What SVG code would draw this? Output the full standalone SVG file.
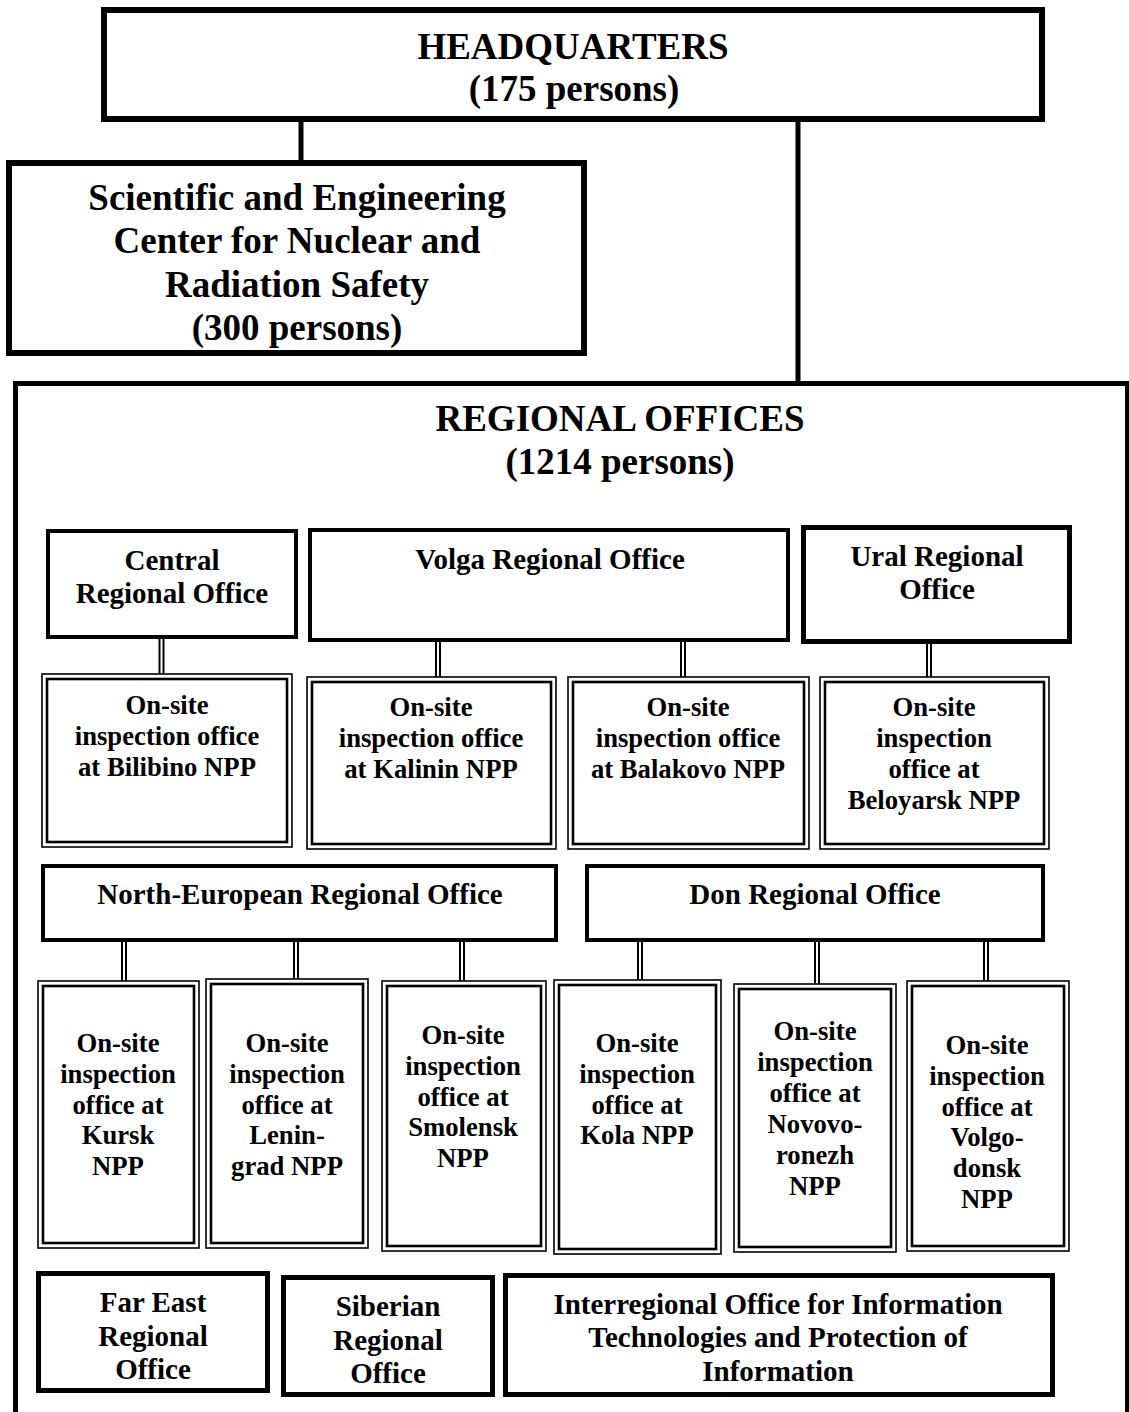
<svg xmlns="http://www.w3.org/2000/svg" width="1129" height="1412" viewBox="0 0 1129 1412">
<style>
text{font-family:"Liberation Serif","Times New Roman",serif;font-weight:bold;fill:#000;text-anchor:middle}
.big{font-size:37px}
.mid{font-size:29px}
.sm{font-size:26.7px}
.box{fill:none;stroke:#000}
.dbo{fill:none;stroke:#000;stroke-width:1.6}
.dbi{fill:none;stroke:#000;stroke-width:2.6}
.c1{stroke:#000;stroke-width:5;fill:none}
.c2{stroke:#000;stroke-width:2;fill:none}
</style>
<rect width="1129" height="1412" fill="#fff"/>
<g id="connectors">
<line class="c1" x1="301" y1="120" x2="301" y2="161"/>
<line class="c1" x1="798" y1="120" x2="798" y2="383"/>
<path class="c2" d="M159.5 639V674M163.5 639V674"/>
<path class="c2" d="M436 642V677M440 642V677"/>
<path class="c2" d="M681 642V677M685 642V677"/>
<path class="c2" d="M927 640V677M931 640V677"/>
<path class="c2" d="M122 942V981M126 942V981"/>
<path class="c2" d="M294 942V979M298 942V979"/>
<path class="c2" d="M460 942V981M464 942V981"/>
<path class="c2" d="M638 942V980M642 942V980"/>
<path class="c2" d="M815 942V984M819 942V984"/>
<path class="c2" d="M984 942V981M988 942V981"/>
</g>
<g id="hq">
<rect class="box" x="104" y="10" width="938" height="109" stroke-width="6"/>
<text class="big" x="573" y="59">HEADQUARTERS</text>
<text class="big" x="574" y="101">(175 persons)</text>
</g>
<g id="sec">
<text class="big" x="297" y="210">Scientific and Engineering</text>
<text class="big" x="297" y="253">Center for Nuclear and</text>
<text class="big" x="297" y="297">Radiation Safety</text>
<text class="big" x="297" y="340">(300 persons)</text>
<rect class="box" x="9" y="163" width="575" height="190" stroke-width="6"/>
</g>
<g id="regional-offices">
<rect class="box" x="15.5" y="383.5" width="1112" height="1100" stroke-width="5"/>
<text class="big" x="620" y="431">REGIONAL OFFICES</text>
<text class="big" x="620" y="474">(1214 persons)</text>
</g>
<g id="central">
<rect class="box" x="48" y="531" width="248" height="106" stroke-width="4"/>
<text class="mid" x="172" y="570">Central</text>
<text class="mid" x="172" y="603">Regional Office</text>
</g>
<g id="volga">
<rect class="box" x="310" y="530" width="478" height="110" stroke-width="4"/>
<text class="mid" x="550" y="569">Volga Regional Office</text>
</g>
<g id="ural">
<rect class="box" x="803.5" y="527.5" width="266" height="114" stroke-width="5"/>
<text class="mid" x="937" y="566">Ural Regional</text>
<text class="mid" x="937" y="599">Office</text>
</g>
<g id="bilibino">
<rect class="dbo" x="42" y="674" width="250" height="173"/>
<rect class="dbi" x="47" y="679" width="240" height="163"/>
<text class="sm" x="167" y="714">On-site</text>
<text class="sm" x="167" y="745">inspection office</text>
<text class="sm" x="167" y="776">at Bilibino NPP</text>
</g>
<g id="kalinin">
<rect class="dbo" x="307" y="677" width="249" height="172"/>
<rect class="dbi" x="312" y="682" width="239" height="162"/>
<text class="sm" x="431" y="716">On-site</text>
<text class="sm" x="431" y="747">inspection office</text>
<text class="sm" x="431" y="778">at Kalinin NPP</text>
</g>
<g id="balakovo">
<rect class="dbo" x="568" y="677" width="241" height="172"/>
<rect class="dbi" x="573" y="682" width="231" height="162"/>
<text class="sm" x="688" y="716">On-site</text>
<text class="sm" x="688" y="747">inspection office</text>
<text class="sm" x="688" y="778">at Balakovo NPP</text>
</g>
<g id="beloyarsk">
<rect class="dbo" x="820" y="677" width="229" height="172"/>
<rect class="dbi" x="825" y="682" width="219" height="162"/>
<text class="sm" x="934" y="716">On-site</text>
<text class="sm" x="934" y="747">inspection</text>
<text class="sm" x="934" y="778">office at</text>
<text class="sm" x="934" y="809">Beloyarsk NPP</text>
</g>
<g id="north-european">
<rect class="box" x="43" y="866" width="513" height="74" stroke-width="4"/>
<text class="mid" x="300" y="904">North-European Regional Office</text>
</g>
<g id="don">
<rect class="box" x="587" y="866" width="456" height="74" stroke-width="4"/>
<text class="mid" x="815" y="904">Don Regional Office</text>
</g>
<g id="kursk">
<rect class="dbo" x="38" y="981" width="161" height="267"/>
<rect class="dbi" x="43" y="986" width="151" height="257"/>
<text class="sm" x="118" y="1052">On-site</text>
<text class="sm" x="118" y="1083">inspection</text>
<text class="sm" x="118" y="1114">office at</text>
<text class="sm" x="118" y="1144">Kursk</text>
<text class="sm" x="118" y="1175">NPP</text>
</g>
<g id="leningrad">
<rect class="dbo" x="206" y="979" width="162" height="269"/>
<rect class="dbi" x="211" y="984" width="152" height="259"/>
<text class="sm" x="287" y="1052">On-site</text>
<text class="sm" x="287" y="1083">inspection</text>
<text class="sm" x="287" y="1114">office at</text>
<text class="sm" x="287" y="1144">Lenin-</text>
<text class="sm" x="287" y="1175">grad NPP</text>
</g>
<g id="smolensk">
<rect class="dbo" x="382" y="981" width="164" height="270"/>
<rect class="dbi" x="387" y="986" width="154" height="260"/>
<text class="sm" x="463" y="1044">On-site</text>
<text class="sm" x="463" y="1075">inspection</text>
<text class="sm" x="463" y="1106">office at</text>
<text class="sm" x="463" y="1136">Smolensk</text>
<text class="sm" x="463" y="1167">NPP</text>
</g>
<g id="kola">
<rect class="dbo" x="554" y="980" width="167" height="274"/>
<rect class="dbi" x="559" y="985" width="157" height="264"/>
<text class="sm" x="637" y="1052">On-site</text>
<text class="sm" x="637" y="1083">inspection</text>
<text class="sm" x="637" y="1114">office at</text>
<text class="sm" x="637" y="1144">Kola NPP</text>
</g>
<g id="novovoronezh">
<rect class="dbo" x="734" y="984" width="162" height="268"/>
<rect class="dbi" x="739" y="989" width="152" height="258"/>
<text class="sm" x="815" y="1040">On-site</text>
<text class="sm" x="815" y="1071">inspection</text>
<text class="sm" x="815" y="1102">office at</text>
<text class="sm" x="815" y="1133">Novovo-</text>
<text class="sm" x="815" y="1164">ronezh</text>
<text class="sm" x="815" y="1195">NPP</text>
</g>
<g id="volgodonsk">
<rect class="dbo" x="907" y="981" width="162" height="270"/>
<rect class="dbi" x="912" y="986" width="152" height="260"/>
<text class="sm" x="987" y="1054">On-site</text>
<text class="sm" x="987" y="1085">inspection</text>
<text class="sm" x="987" y="1116">office at</text>
<text class="sm" x="987" y="1146">Volgo-</text>
<text class="sm" x="987" y="1177">donsk</text>
<text class="sm" x="987" y="1208">NPP</text>
</g>
<g id="far-east">
<rect class="box" x="38.5" y="1273.5" width="229" height="117" stroke-width="5"/>
<text class="mid" x="153" y="1312">Far East</text>
<text class="mid" x="153" y="1346">Regional</text>
<text class="mid" x="153" y="1379">Office</text>
</g>
<g id="siberian">
<rect class="box" x="283.5" y="1277.5" width="209" height="117" stroke-width="5"/>
<text class="mid" x="388" y="1316">Siberian</text>
<text class="mid" x="388" y="1350">Regional</text>
<text class="mid" x="388" y="1383">Office</text>
</g>
<g id="interregional">
<rect class="box" x="505.5" y="1275.5" width="547" height="119" stroke-width="5"/>
<text class="mid" x="778" y="1314">Interregional Office for Information</text>
<text class="mid" x="778" y="1347">Technologies and Protection of</text>
<text class="mid" x="778" y="1381">Information</text>
</g>
</svg>
